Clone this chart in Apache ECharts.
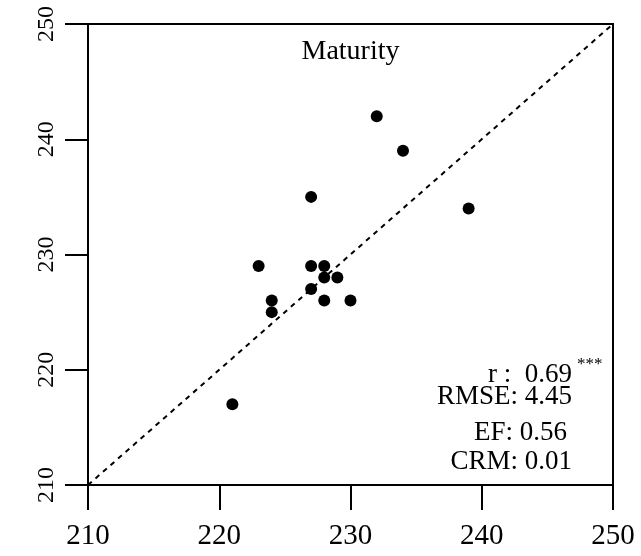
<!DOCTYPE html>
<html>
<head>
<meta charset="utf-8">
<script src="https://cdn.jsdelivr.net/npm/echarts@6/dist/echarts.min.js"></script>
<style>
  html, body { margin: 0; padding: 0; background: #fff; }
  #graph { width: 641px; height: 556px; }
</style>
</head>
<body>
<div id="graph"></div>
<script>
// observed vs simulated maturity (day of year)
const simulated = [232, 234, 227, 239, 223, 227, 228, 228, 229, 227, 224, 228, 230, 224, 221];
const observed = [242, 239, 235, 234, 229, 229, 229, 228, 228, 227, 226, 226, 226, 225, 217];
const oneToOne = [[210, 210], [250, 250]];
const axisMin = 210;
const axisMax = 250;
const axisStep = 10;
const panelTitle = 'Maturity';
const statLines = ['r :  0.69', 'RMSE: 4.45', 'EF: 0.56', 'CRM: 0.01'];
const signif = '***';

const font = '"Liberation Serif", "Times New Roman", serif';

let points = [];
for (let i = 0; i < simulated.length; i++) {
  points.push([simulated[i], observed[i]]);
}

let myChart = echarts.init(document.getElementById('graph'));
myChart.setOption({
  backgroundColor: '#fff',
  animation: false,
  grid: {
    left: 88,
    right: 28,
    top: 24,
    bottom: 71,
    show: true,
    borderColor: '#000',
    borderWidth: 2
  },
  xAxis: {
    type: 'value',
    min: axisMin,
    max: axisMax,
    interval: axisStep,
    splitLine: {show: false},
    axisLine: {lineStyle: {color: '#000', width: 2}},
    axisTick: {length: 25, lineStyle: {color: '#000', width: 2}},
    axisLabel: {color: '#000', fontFamily: font, fontSize: 29, margin: 37}
  },
  yAxis: {
    type: 'value',
    min: axisMin,
    max: axisMax,
    interval: axisStep,
    splitLine: {show: false},
    axisLine: {lineStyle: {color: '#000', width: 2}},
    axisTick: {length: 23, lineStyle: {color: '#000', width: 2}},
    axisLabel: {color: '#000', fontFamily: font, fontSize: 24, rotate: 90, margin: 29}
  },
  series: [
    {
      type: 'line',
      data: oneToOne,
      symbol: 'none',
      silent: true,
      lineStyle: {color: '#000', width: 2, type: [5, 5]}
    },
    {
      type: 'scatter',
      data: points,
      symbolSize: 12,
      itemStyle: {color: '#000', opacity: 1}
    }
  ],
  graphic: [
    {
      type: 'text', x: 350.5, y: 52,
      style: {text: panelTitle, font: '28px ' + font, fill: '#000', align: 'center', verticalAlign: 'middle'}
    },
    {
      type: 'text', x: 572, y: 375,
      style: {text: statLines[0], font: '27px ' + font, fill: '#000', align: 'right', verticalAlign: 'middle'}
    },
    {
      type: 'text', x: 577, y: 356,
      style: {text: signif, font: '17px ' + font, fill: '#000', align: 'left', verticalAlign: 'top'}
    },
    {
      type: 'text', x: 572, y: 397,
      style: {text: statLines[1], font: '27px ' + font, fill: '#000', align: 'right', verticalAlign: 'middle'}
    },
    {
      type: 'text', x: 567, y: 433,
      style: {text: statLines[2], font: '27px ' + font, fill: '#000', align: 'right', verticalAlign: 'middle'}
    },
    {
      type: 'text', x: 572, y: 462,
      style: {text: statLines[3], font: '27px ' + font, fill: '#000', align: 'right', verticalAlign: 'middle'}
    }
  ]
});
</script>
</body>
</html>
